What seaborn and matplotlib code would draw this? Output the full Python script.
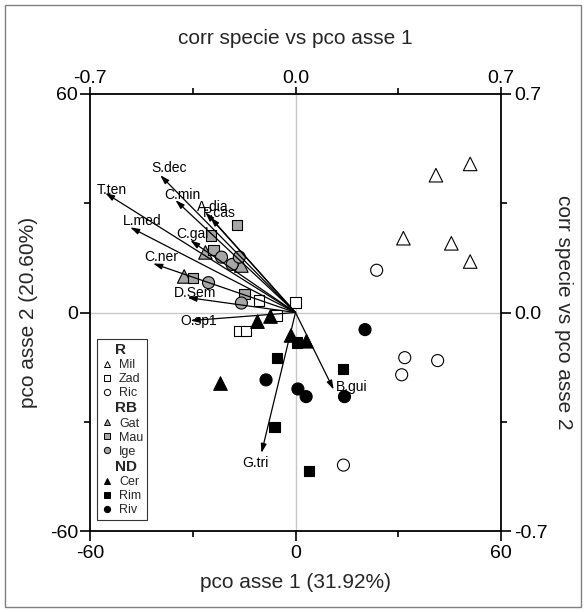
import matplotlib
matplotlib.use('Agg')
import matplotlib.pyplot as plt
import seaborn as sns
import pandas as pd
from matplotlib.lines import Line2D
from matplotlib.patches import Rectangle

sns.set_theme(style='white')
plt.rcParams['font.family'] = ['Liberation Sans', 'DejaVu Sans']
plt.rcParams['axes.unicode_minus'] = False

# ---------------- data ----------------
mil_x = [51, 41, 31.5, 45.5, 51]
mil_y = [40.8, 37.7, 20.4, 19.0, 14.0]
zad_x = [0, -10.7, -16.5, -14.5, -5.5]
zad_y = [2.8, 3.3, -5.0, -5.0, -0.8]
ric_x = [23.7, 31.9, 31.0, 41.5, 14.0]
ric_y = [11.6, -12.4, -17.1, -13.2, -41.9]
gat_x = [-26.3, -15.8, -32.5]
gat_y = [16.5, 12.9, 9.9]
mau_x = [-17.0, -24.6, -23.9, -30.0, -14.9]
mau_y = [24.0, 21.1, 17.1, 9.4, 5.0]
ige_x = [-21.6, -18.5, -16.4, -25.4, -15.8]
ige_y = [15.2, 13.2, 15.2, 8.2, 2.6]
cer_x = [-11.1, -7.3, -1.3, 3.2, -21.9]
cer_y = [-2.5, -1.1, -6.3, -7.9, -19.5]
rim_x = [-5.4, 0.5, 13.9, -6.1, 3.9]
rim_y = [-12.5, -8.2, -15.5, -31.4, -43.5]
riv_x = [20.3, -8.6, 0.7, 3.1, 14.3]
riv_y = [-4.7, -18.5, -21.0, -23.1, -23.1]

species = ['S.dec', 'T.ten', 'C.min', 'A.dia', 'P.cas', 'L.med', 'C.gal',
           'C.ner', 'D.Sem', 'O.sp1', 'B.gui', 'G.tri']
corr_x = [-0.461, -0.648, -0.409, -0.307, -0.290, -0.563, -0.358,
          -0.485, -0.368, -0.358, 0.130, -0.116]
corr_y = [0.440, 0.383, 0.360, 0.321, 0.305, 0.273, 0.231,
          0.157, 0.048, -0.026, -0.247, -0.450]

score_ticks = [-60, 0, 60]
corr_ticks = [-0.7, 0.0, 0.7]

# ---------------- styles ----------------
groups = [('R', ['Mil', 'Zad', 'Ric']), ('RB', ['Gat', 'Mau', 'Ige']),
          ('ND', ['Cer', 'Rim', 'Riv'])]
site_xy = {'Mil': (mil_x, mil_y), 'Zad': (zad_x, zad_y), 'Ric': (ric_x, ric_y),
           'Gat': (gat_x, gat_y), 'Mau': (mau_x, mau_y), 'Ige': (ige_x, ige_y),
           'Cer': (cer_x, cer_y), 'Rim': (rim_x, rim_y), 'Riv': (riv_x, riv_y)}
face = {'Mil': 'white', 'Zad': 'white', 'Ric': 'white',
        'Gat': '#a6a6a6', 'Mau': '#a6a6a6', 'Ige': '#a6a6a6',
        'Cer': 'black', 'Rim': 'black', 'Riv': 'black'}
mark = {'Mil': '^', 'Zad': 's', 'Ric': 'o', 'Gat': '^', 'Mau': 's', 'Ige': 'o',
        'Cer': '^', 'Rim': 's', 'Riv': 'o'}
shape = {'^': 'tri', 's': 'sq', 'o': 'circ'}

rows = []
for site, (xs, ys) in site_xy.items():
    for x, y in zip(xs, ys):
        rows.append({'x': x, 'y': y, 'site': site, 'shape': shape[mark[site]]})
df = pd.DataFrame(rows)

fig = plt.figure(figsize=(5.86, 6.12), dpi=100)
L, R, B, T = 90 / 586, 501 / 586, 1 - 531 / 612, 1 - 94 / 612
ax = fig.add_axes([L, B, R - L, T - B])
ax.set_xlim(-60, 60)
ax.set_ylim(-60, 60)
ax.axhline(0, color='#c8c8c8', lw=1, zorder=0)
ax.axvline(0, color='#c8c8c8', lw=1, zorder=0)

sns.scatterplot(data=df, x='x', y='y', hue='site', style='site', size='shape',
                sizes={'tri': 95, 'sq': 56, 'circ': 75},
                palette=face, markers=mark, edgecolor='black', linewidth=0.8,
                legend=False, ax=ax, zorder=3)

ax.set_xlabel('')
ax.set_ylabel('')
ax.set_xticks(score_ticks)
ax.set_yticks(score_ticks)
ax.set_xticks([-30, 30], minor=True)
ax.set_yticks([-30, 30], minor=True)
ax.set_xticklabels([str(t) for t in score_ticks])
ax.set_yticklabels([str(t) for t in score_ticks])
for s in ax.spines.values():
    s.set_color('black')
    s.set_linewidth(1.3)
ax.tick_params(which='both', direction='out', width=1.2, labelsize=14,
               colors='black', bottom=True, left=True)
ax.tick_params(axis='x', which='major', length=7, pad=3)
ax.tick_params(axis='y', which='major', length=7, pad=1.5)
ax.tick_params(which='minor', length=4)

# correlation axes
ax2 = fig.add_axes([L, B, R - L, T - B], frameon=False)
ax2.set_xlim(-0.7, 0.7)
ax2.set_ylim(-0.7, 0.7)
ax2.patch.set_visible(False)
ax2.xaxis.tick_top()
ax2.yaxis.tick_right()
ax2.set_xticks(corr_ticks)
ax2.set_yticks(corr_ticks)
ax2.set_xticks([-0.35, 0.35], minor=True)
ax2.set_yticks([-0.35, 0.35], minor=True)
ax2.set_xticklabels(['%.1f' % t for t in corr_ticks])
ax2.set_yticklabels(['%.1f' % t for t in corr_ticks])
ax2.tick_params(which='both', direction='out', width=1.2, labelsize=14,
                colors='black', top=True, right=True)
ax2.tick_params(axis='x', which='major', length=5, pad=0)
ax2.tick_params(axis='y', which='major', length=7, pad=2.5)
ax2.tick_params(which='minor', length=4)

# label offsets (pixels, label centre relative to arrow tip)
lab_off = {'S.dec': (9, 7), 'T.ten': (7, 3), 'C.min': (7, 5), 'A.dia': (7, 5),
           'P.cas': (9, 4), 'L.med': (12, 6), 'C.gal': (2, 6), 'C.ner': (8, 6),
           'D.Sem': (8, 5), 'O.sp1': (8, 0), 'B.gui': (18, 3), 'G.tri': (-6, -10)}
for name, cx, cy in zip(species, corr_x, corr_y):
    ax2.annotate('', xy=(cx, cy), xytext=(0, 0),
                 arrowprops=dict(arrowstyle='-|>,head_length=0.45,head_width=0.14',
                                 color='black', lw=0.9, shrinkA=0, shrinkB=0),
                 zorder=4)
    dx, dy = lab_off[name]
    ax2.annotate(name, xy=(cx, cy), xytext=(dx * 0.72, dy * 0.72),
                 textcoords='offset points', ha='center', va='center',
                 fontsize=10, color='black', zorder=5)

# legend
handles, labels = [], []
for head, members in groups:
    handles.append(Line2D([], [], linestyle='none', marker=None))
    labels.append(head)
    for m in members:
        handles.append(Line2D([], [], linestyle='none', marker=mark[m],
                              markerfacecolor=face[m], markeredgecolor='black',
                              markeredgewidth=0.7, markersize=4.5))
        labels.append(m)
leg = ax.legend(handles, labels, loc='lower left', bbox_to_anchor=(0.016, 0.025),
                borderaxespad=0, frameon=True, fancybox=False, fontsize=9,
                handlelength=1.0, handletextpad=0.5, labelspacing=0.17,
                borderpad=0.3)
leg.get_frame().set_edgecolor('black')
leg.get_frame().set_linewidth(0.8)
leg.set_zorder(6)
for txt in leg.get_texts():
    if txt.get_text() in ('R', 'RB', 'ND'):
        txt.set_fontweight('bold')
        txt.set_fontsize(11)
        txt.set_x(-4)

fig.text(295 / 586, 1 - 38 / 612, 'corr specie vs pco asse 1', ha='center',
         va='center', fontsize=15)
fig.text(295 / 586, 1 - 583 / 612, 'pco asse 1 (31.92%)', ha='center',
         va='center', fontsize=15)
fig.text(28 / 586, 1 - 312 / 612, 'pco asse 2 (20.60%)', ha='center',
         va='center', fontsize=15, rotation=90)
fig.text(563 / 586, 1 - 312 / 612, 'corr specie vs pco asse 2', ha='center',
         va='center', fontsize=15, rotation=270)

fig.patches.append(Rectangle((0.008, 0.008), 0.984, 0.984, transform=fig.transFigure,
                             fill=False, edgecolor='#808080', lw=1))

fig.savefig('out.png', dpi=100)
